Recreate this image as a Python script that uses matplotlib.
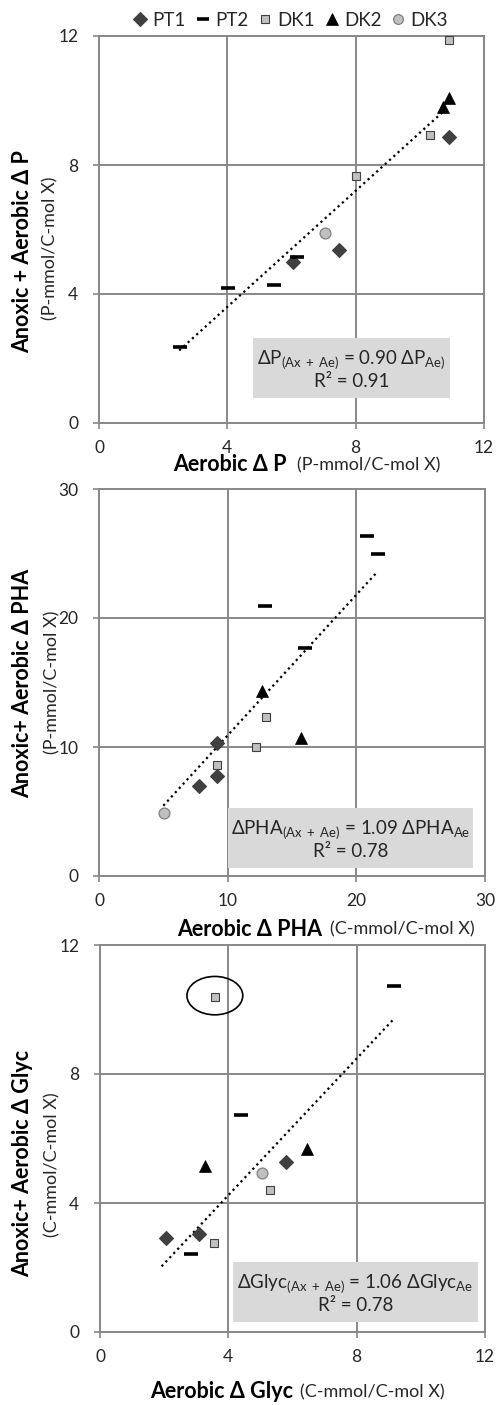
import matplotlib
matplotlib.use("Agg")
import matplotlib.pyplot as plt
from matplotlib.lines import Line2D
from matplotlib.patches import Rectangle, Ellipse

plt.rcParams['font.family'] = ['Lato', 'DejaVu Sans']
plt.rcParams['mathtext.fontset'] = 'custom'
plt.rcParams['mathtext.rm'] = 'Lato'
plt.rcParams['mathtext.it'] = 'Lato:italic'
plt.rcParams['mathtext.bf'] = 'Lato:bold'

# ---- data ----
# panel 1: aerobic dP vs anoxic+aerobic dP
p_pt1_x = [6.04, 7.49, 10.9]
p_pt1_y = [4.98, 5.36, 8.87]
p_pt2_x = [2.53, 4.01, 5.47, 6.16]
p_pt2_y = [2.36, 4.19, 4.29, 5.16]
p_dk1_x = [8.02, 10.31, 10.91]
p_dk1_y = [7.67, 8.93, 11.87]
p_dk2_x = [10.72, 10.9]
p_dk2_y = [9.80, 10.08]
p_dk3_x = [7.04]
p_dk3_y = [5.88]

# panel 2: PHA
pha_pt1_x = [9.17, 7.8, 9.15]
pha_pt1_y = [10.34, 6.96, 7.73]
pha_pt2_x = [20.83, 21.68, 12.92, 16.02]
pha_pt2_y = [26.38, 24.95, 20.95, 17.71]
pha_dk1_x = [13.0, 12.2, 9.15]
pha_dk1_y = [12.34, 10.03, 8.61]
pha_dk2_x = [12.64, 15.68]
pha_dk2_y = [14.33, 10.7]
pha_dk3_x = [5.06]
pha_dk3_y = [4.91]

# panel 3: glycogen
gly_pt1_x = [2.07, 3.09, 5.79]
gly_pt1_y = [2.91, 3.04, 5.28]
gly_pt2_x = [2.83, 4.38, 9.16]
gly_pt2_y = [2.43, 6.74, 10.73]
gly_dk1_x = [3.59, 3.54, 5.30]
gly_dk1_y = [10.38, 2.77, 4.39]
gly_dk2_x = [3.28, 6.45]
gly_dk2_y = [5.14, 5.67]
gly_dk3_x = [5.06]
gly_dk3_y = [4.94]

slopes = [0.90, 1.09, 1.06]
trend_x = [[2.5, 10.75], [5.0, 21.6], [1.92, 9.13]]
r2_labels = ['R\u00b2 = 0.91', 'R\u00b2 = 0.78', 'R\u00b2 = 0.78']
eq_labels = [r'$\mathrm{\Delta P_{(Ax\ +\ Ae)}}$ = 0.90 $\mathrm{\Delta P_{Ae)}}$',
             r'$\mathrm{\Delta PHA_{(Ax\ +\ Ae)}}$ = 1.09 $\mathrm{\Delta PHA_{Ae}}$',
             r'$\mathrm{\Delta Glyc_{(Ax\ +\ Ae)}}$ = 1.06 $\mathrm{\Delta Glyc_{Ae}}$']
axis_max = [12, 30, 12]
tick_steps = [4, 10, 4]
ylab_bold = ['Anoxic + Aerobic \u0394 P', 'Anoxic+ Aerobic \u0394 PHA', 'Anoxic+ Aerobic \u0394 Glyc']
ylab_unit = ['(P-mmol/C-mol X)', '(P-mmol/C-mol X)', '(C-mmol/C-mol X)']
xlab_bold = ['Aerobic \u0394 P', 'Aerobic \u0394 PHA', 'Aerobic \u0394 Glyc']
xlab_unit = ['(P-mmol/C-mol X)', '(C-mmol/C-mol X)', '(C-mmol/C-mol X)']

panels = [
    [(p_pt1_x, p_pt1_y), (p_pt2_x, p_pt2_y), (p_dk1_x, p_dk1_y), (p_dk2_x, p_dk2_y), (p_dk3_x, p_dk3_y)],
    [(pha_pt1_x, pha_pt1_y), (pha_pt2_x, pha_pt2_y), (pha_dk1_x, pha_dk1_y), (pha_dk2_x, pha_dk2_y), (pha_dk3_x, pha_dk3_y)],
    [(gly_pt1_x, gly_pt1_y), (gly_pt2_x, gly_pt2_y), (gly_dk1_x, gly_dk1_y), (gly_dk2_x, gly_dk2_y), (gly_dk3_x, gly_dk3_y)],
]
series_names = ['PT1', 'PT2', 'DK1', 'DK2', 'DK3']

# ---- styles ----
W, H = 498, 1405
grid_col = '#888888'
text_col = '#262626'
styles = [
    dict(marker='D', ms=7.6, mfc='#404040', mec='#404040', mew=0.8),
    dict(marker='_', ms=9.5, mfc='black', mec='black', mew=2.6),
    dict(marker='s', ms=6.2, mfc='#c0c0c0', mec='#404040', mew=0.8),
    dict(marker='^', ms=9, mfc='black', mec='black', mew=0.5),
    dict(marker='o', ms=7.8, mfc='#c0c0c0', mec='#7f7f7f', mew=0.9),
]

# axes boxes in pixels: left, top, right, bottom
ax_px = [(99, 36, 484, 423), (99, 489, 485, 876), (100, 945, 485, 1332)]
box_data = [(4.81, 0.79, 10.93, 2.65), (10.0, 0.65, 29.1, 5.3), (4.16, 0.31, 11.77, 2.16)]
ylab_pos = [(23, 252, 50, 248), (23, 683, 52, 682), (23, 1163, 52, 1165)]
# bold right edge, centre y, unit left edge
xlab_pos = [(287, 465, 297), (322, 929, 330), (293, 1392, 300)]

fig = plt.figure(figsize=(W / 100, H / 100), dpi=100)

for i in range(3):
    l, t, r, b = ax_px[i]
    ax = fig.add_axes([l / W, 1 - b / H, (r - l) / W, (b - t) / H])
    mx = axis_max[i]
    ax.set_xlim(0, mx)
    ax.set_ylim(0, mx)
    ticks = list(range(0, mx + 1, tick_steps[i]))
    ax.set_xticks(ticks)
    ax.set_yticks(ticks)
    ax.grid(True, color=grid_col, lw=1.4)
    ax.set_axisbelow(True)
    for s in ax.spines.values():
        s.set_color(grid_col)
        s.set_linewidth(1.4)
    ax.tick_params(direction='out', length=4, width=1.2, color=grid_col,
                   labelsize=12.5, labelcolor=text_col, pad=8)
    ax.tick_params(axis='y', pad=11)

    # R² box
    x0, y0, x1, y1 = box_data[i]
    ax.add_patch(Rectangle((x0, y0), x1 - x0, y1 - y0, facecolor='#d9d9d9',
                           edgecolor='none', zorder=1))
    cx = (x0 + x1) / 2
    ax.text(cx, y0 + (y1 - y0) * 0.64, eq_labels[i], ha='center', va='center',
            fontsize=13.5, color=text_col, zorder=2)
    ax.text(cx, y0 + (y1 - y0) * 0.27, r2_labels[i], ha='center', va='center',
            fontsize=13.5, color=text_col, zorder=2)

    # trend line
    tx = trend_x[i]
    ax.plot(tx, [slopes[i] * v for v in tx], color='black', lw=1.6,
            linestyle=(0, (1, 1.6)), zorder=3)

    for (xs, ys), st in zip(panels[i], styles):
        ax.plot(xs, ys, linestyle='none', zorder=4, **st)

    # axis labels
    bx, by, ux, uy = ylab_pos[i]
    fig.text(bx / W, 1 - by / H, ylab_bold[i], rotation=90, ha='center', va='center',
             fontsize=15.5, fontweight='bold', color='black')
    fig.text(ux / W, 1 - uy / H, ylab_unit[i], rotation=90, ha='center', va='center',
             fontsize=13, color=text_col)
    xr, xy, xu = xlab_pos[i]
    fig.text(xr / W, 1 - xy / H, xlab_bold[i], ha='right', va='center',
             fontsize=15.5, fontweight='bold', color='black')
    fig.text(xu / W, 1 - xy / H, xlab_unit[i], ha='left', va='center',
             fontsize=13, color=text_col)

    if i == 2:
        ax.add_patch(Ellipse((gly_dk1_x[0] - 0.01, gly_dk1_y[0] + 0.05), 1.74, 1.19,
                             facecolor='none', edgecolor='black', lw=1.2, zorder=5))

handles = []
for name, st in zip(series_names, styles):
    hs = dict(st)
    hs['ms'] = st['ms'] * 0.9
    handles.append(Line2D([], [], linestyle='none', label=name, **hs))
fig.legend(handles=handles, loc='center', bbox_to_anchor=(291 / W, 1 - 20 / H), ncol=5,
           frameon=False, fontsize=13.5, handlelength=0.7, handletextpad=0.3,
           columnspacing=0.55, labelcolor=text_col, borderpad=0)

fig.savefig('out.png', dpi=100)
